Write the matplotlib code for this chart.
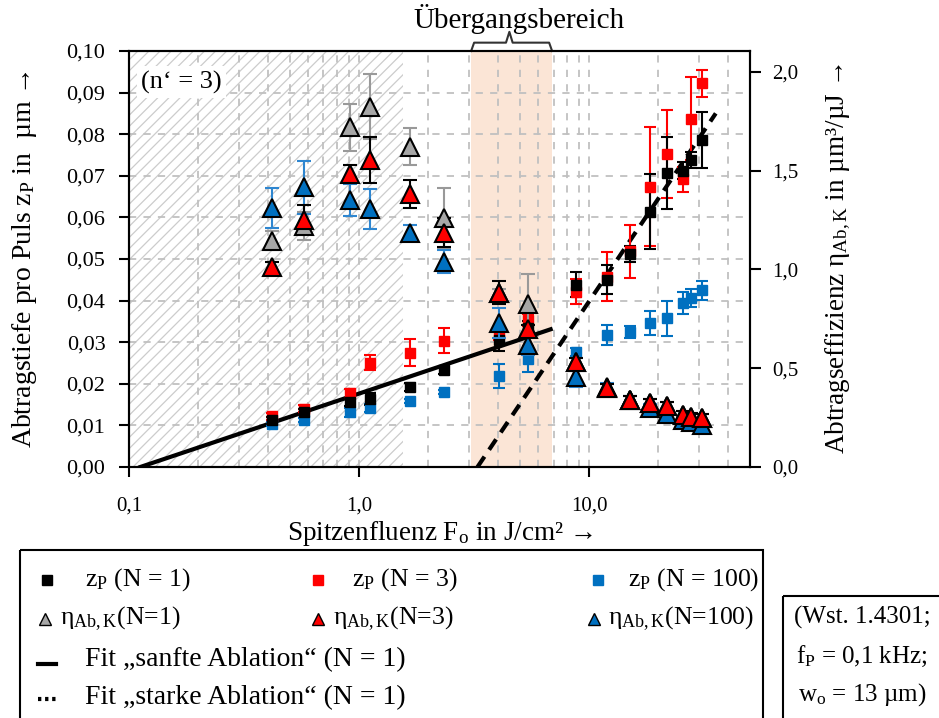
import numpy as np
import matplotlib
matplotlib.use('Agg')
import matplotlib.pyplot as plt
from matplotlib.patches import Rectangle
from matplotlib.ticker import FixedLocator, FuncFormatter, LogLocator, NullFormatter
import matplotlib.transforms as mtransforms

plt.rcParams['font.family'] = ['Liberation Serif', 'DejaVu Serif']
plt.rcParams['mathtext.fontset'] = 'custom'
plt.rcParams['mathtext.rm'] = 'Liberation Serif'
plt.rcParams['mathtext.it'] = 'Liberation Serif:italic'
plt.rcParams['hatch.linewidth'] = 0.9

# peak fluence in J/cm^2
fluence = [0.42, 0.574, 0.916, 1.11, 1.67, 2.33, 4.04, 5.40,
           8.75, 12.0, 15.0, 18.4, 21.7, 25.7, 27.6, 31.0]

# ablation depth per pulse z_P in um
zp_n1 = [0.0112, 0.0132, 0.0157, 0.0163, 0.0192, 0.0233, 0.0305, 0.0335,
         0.0438, 0.0450, 0.0512, 0.0614, 0.0707, 0.0712, 0.0738, 0.0786]
zp_n1_err = [0.0008, 0.0008, 0.0010, 0.0015, 0.0010, 0.0010, 0.0026, 0.0015,
             0.0030, 0.0035, 0.0020, 0.0090, 0.0086, 0.0020, 0.0020, 0.0067]
zp_n3 = [0.0122, 0.0140, 0.0177, 0.0251, 0.0275, 0.0303, 0.0320, 0.0353,
         0.0421, 0.0457, 0.0518, 0.0674, 0.0752, 0.0692, 0.0837, 0.0922]
zp_n3_err = [0.0008, 0.0008, 0.0010, 0.0017, 0.0032, 0.0030, 0.0015, 0.0015,
             0.0030, 0.0059, 0.0063, 0.0143, 0.0106, 0.0030, 0.0100, 0.0033]
zp_n100 = [0.0103, 0.0113, 0.0131, 0.0141, 0.0159, 0.0180, 0.0219, 0.0260,
           0.0277, 0.0317, 0.0325, 0.0347, 0.0357, 0.0394, 0.0406, 0.0425]
zp_n100_err = [0.0005, 0.0005, 0.0010, 0.0010, 0.0005, 0.0005, 0.0028, 0.0032,
               0.0010, 0.0024, 0.0015, 0.0029, 0.0042, 0.0027, 0.0021, 0.0023]

# ablation efficiency eta_Ab,K in um^3/uJ
eta_n1 = [1.146, 1.220, 1.720, 1.824, 1.622, 1.259, 0.883, 0.825,
          0.533, 0.398, 0.339, 0.326, 0.309, 0.263, 0.252, 0.250]
eta_n1_err = [0.050, 0.073, 0.120, 0.165, 0.095, 0.154, 0.020, 0.150,
              0.020, 0.020, 0.020, 0.020, 0.020, 0.020, 0.020, 0.020]
eta_n3 = [1.011, 1.251, 1.484, 1.554, 1.382, 1.186, 0.883, 0.697,
          0.533, 0.398, 0.339, 0.326, 0.309, 0.263, 0.252, 0.250]
eta_n3_err = [0.028, 0.073, 0.046, 0.117, 0.073, 0.073, 0.060, 0.020,
              0.020, 0.020, 0.020, 0.020, 0.020, 0.020, 0.020, 0.020]
eta_n100 = [1.310, 1.416, 1.352, 1.306, 1.183, 1.040, 0.731, 0.618,
            0.457, 0.407, 0.339, 0.297, 0.268, 0.238, 0.230, 0.213]
eta_n100_err = [0.102, 0.135, 0.080, 0.103, 0.040, 0.056, 0.076, 0.050,
                0.050, 0.020, 0.020, 0.020, 0.020, 0.020, 0.020, 0.020]

# fit lines (end points, straight in log-x)
fit_soft_x = [0.112, 6.8]
fit_soft_y = [0.0, 0.0331]
fit_strong_x = [3.27, 35.5]
fit_strong_y = [0.0, 0.0850]

# regions
hatch_range = [0.1, 1.55]
transition_range = [3.07, 6.9]

black = '#000000'
red = '#FF0000'
blue = '#0070C0'
gray = '#A6A6A6'

fig = plt.figure(figsize=(9.39, 7.18), dpi=100)
ax = fig.add_axes([0.1374, 0.3496, 0.6613, 0.5794])
ax2 = ax.twinx()

ax.set_xscale('log')
ax.set_xlim(0.1, 50)
ax.set_ylim(0, 0.10)
ax2.set_ylim(0, 2.106)

# background regions
ax.axvspan(*transition_range, facecolor='#FBE5D6', edgecolor='none', zorder=0)
ax.axvspan(*hatch_range, facecolor='none', edgecolor='#cccccc', hatch='///',
           linewidth=0, zorder=0.5)

# grid
ax.xaxis.set_major_locator(FixedLocator([0.1, 1, 10]))
ax.xaxis.set_minor_locator(LogLocator(base=10, subs=np.arange(2, 10)))
ax.xaxis.set_minor_formatter(NullFormatter())
ax.xaxis.set_major_formatter(FuncFormatter(lambda v, p: f'{v:.1f}'.replace('.', ',')))
ax.set_yticks(np.arange(0, 0.101, 0.01))
ax.yaxis.set_major_formatter(FuncFormatter(lambda v, p: f'{v:.2f}'.replace('.', ',')))
ax.grid(True, which='both', axis='x', color='#c0c0c0', linestyle=(0, (4, 4)), linewidth=1.3)
ax.grid(True, which='major', axis='y', color='#c0c0c0', linestyle=(0, (4, 4)), linewidth=1.3)
ax.set_axisbelow(True)

ax2.set_yticks(np.arange(0, 2.01, 0.5))
ax2.yaxis.set_major_formatter(FuncFormatter(lambda v, p: f'{v:.1f}'.replace('.', ',')))

ax.tick_params(axis='x', which='major', direction='out', length=7, width=1.5, pad=14, labelsize=15)
ax.tick_params(axis='x', which='minor', length=0)
ax.tick_params(axis='y', direction='out', length=7, width=1.5, labelsize=16, pad=10)
ax2.tick_params(axis='y', direction='out', length=8, width=1.5, labelsize=15, pad=8)
for a in (ax, ax2):
    for s in a.spines.values():
        s.set_linewidth(1.5)

# fit lines
ax.plot(fit_soft_x, fit_soft_y, color=black, lw=3, zorder=3)
ax.plot(fit_strong_x, fit_strong_y, color=black, lw=3, linestyle=(0, (3, 2)), zorder=3)

# ablation depth (left axis)
sq = dict(fmt='s', ms=7, capsize=4, elinewidth=1.5, capthick=1.5, zorder=4)
ax.errorbar(fluence, zp_n100, yerr=zp_n100_err, color=blue, ecolor=blue, **sq)
ax.errorbar(fluence, zp_n3, yerr=zp_n3_err, color=red, ecolor=red, **sq)
ax.errorbar(fluence, zp_n1, yerr=zp_n1_err, color=black, ecolor=black, **sq)

# ablation efficiency (right axis)
tri = dict(fmt='^', ms=13, mec=black, mew=1.5, capsize=5, elinewidth=1.5, capthick=1.5)
ax2.errorbar(fluence, eta_n1, yerr=eta_n1_err, mfc=gray, ecolor='#999999', **tri)
ax2.errorbar(fluence, eta_n100, yerr=eta_n100_err, mfc=blue, ecolor='#2E86D0', **tri)
ax2.errorbar(fluence, eta_n3, yerr=eta_n3_err, mfc=red, ecolor=black, **tri)

ax.set_xlabel('Spitzenfluenz F$_\\mathregular{o}$ in J/cm² →', fontsize=19.5, labelpad=3)
ax.set_ylabel('Abtragstiefe pro Puls z$_\\mathregular{P}$ in  µm →', fontsize=20, labelpad=20)
ax2.set_ylabel('Abtragseffizienz η$_\\mathregular{Ab,K}$ in µm³/µJ →', fontsize=19.5, labelpad=18)

ax.text(0.084, 0.925, '(n‘ = 3)', transform=ax.transAxes, fontsize=19, ha='center',
        va='center', zorder=5,
        bbox=dict(facecolor='white', edgecolor='none', pad=3))

# bracket for transition region
trans = mtransforms.blended_transform_factory(ax.transData, ax.transAxes)
bx = [transition_range[0], transition_range[0] * 1.03, 4.35, 4.5, 4.65,
      transition_range[1] / 1.03, transition_range[1]]
by = [1.0, 1.02, 1.02, 1.046, 1.02, 1.02, 1.0]
ax.plot(bx, by, color='#333333', lw=1.5, transform=trans, clip_on=False)
ax.text(4.97, 1.078, 'Übergangsbereich', transform=trans, fontsize=21,
        ha='center', va='center')

# legend and parameter box
lax = fig.add_axes([0, 0, 1, 1], facecolor='none')
lax.set_xlim(0, 939)
lax.set_ylim(718, 0)
lax.axis('off')
lax.add_patch(Rectangle((20, 550), 743, 180, fill=False, lw=1.5, clip_on=False))
lax.add_patch(Rectangle((783, 596), 170, 140, fill=False, lw=1.5, clip_on=False))

lfs = 18.5
row1, row2, row3, row4 = 580, 619, 660, 698
sq_items = [(47, 85, black, '1'), (318, 352, red, '3'), (598, 628, blue, '100')]
for mx, tx, c, n in sq_items:
    lax.plot([mx], [row1], 's', color=c, ms=7)
    lax.text(tx, row1, f'z$_\\mathregular{{P}}$ (N = {n})', fontsize=lfs, va='center')
tri_items = [(45, 60, gray, '1'), (318, 333, red, '3'), (594, 608, blue, '100')]
for mx, tx, c, n in tri_items:
    lax.plot([mx], [row2], '^', mfc=c, mec=black, mew=1, ms=9)
    lax.text(tx, row2, f'η$_\\mathregular{{Ab,K}}$(N={n})', fontsize=lfs, va='center')
lax.plot([38, 56], [row3 + 4, row3 + 4], color=black, lw=3)
lax.text(85, row3, 'Fit „sanfte Ablation“ (N = 1)', fontsize=20, va='center')
lax.plot([38, 56], [row4 + 1, row4 + 1], color=black, lw=3, linestyle=(0, (0.8, 0.9)))
lax.text(85, row4, 'Fit „starke Ablation“ (N = 1)', fontsize=20, va='center')

lax.text(862, 617, '(Wst. 1.4301;', fontsize=18, ha='center', va='center')
lax.text(862, 656, 'f$_\\mathregular{P}$ = 0,1 kHz;', fontsize=18, ha='center', va='center')
lax.text(862, 695, 'w$_\\mathregular{o}$ = 13 µm)', fontsize=18, ha='center', va='center')

fig.savefig('out.png', dpi=100)
